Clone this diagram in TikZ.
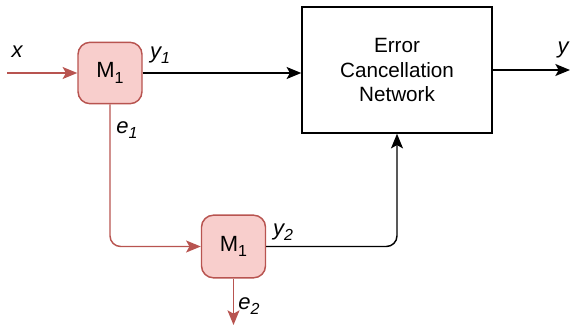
\documentclass[tikz,border=0pt]{standalone}
\usepackage{fontspec}
\setmainfont{Liberation Sans}
\usetikzlibrary{arrows.meta, positioning, calc}

\definecolor{mfill}{HTML}{F8CECC}
\definecolor{mline}{HTML}{B85450}

% index set a bit larger than \textsubscript
\newcommand{\lowidx}[1]{\raisebox{-0.45ex}{\fontsize{12}{12}\selectfont #1}}

\begin{document}
\begin{tikzpicture}[x=0.75pt, y=-0.75pt,
  font=\fontsize{15.5}{18.5}\selectfont,
  mblock/.style={draw=mline, fill=mfill, line width=1.1pt, rounded corners=9pt,
    minimum width=48pt, minimum height=46pt, inner sep=0pt,
    font=\fontsize{16.5}{18}\selectfont},
  ecnbox/.style={draw, line width=1.1pt, minimum width=142.5pt,
    minimum height=94.5pt, align=center},
  redwire/.style={mline, line width=1.1pt,
    -{Stealth[length=11pt, width=9pt, inset=2.5pt]}},
  wire/.style={black, line width=1.1pt,
    -{Stealth[length=11pt, width=9pt, inset=2.5pt]}},
  lbl/.style={inner sep=0pt, font=\fontsize{16.5}{18}\selectfont\itshape}
]
  \useasboundingbox (0,0) rectangle (571,325);

  % blocks
  \node[mblock] (m1a) at (110,73) {M\lowidx{1}};
  \node[mblock, minimum height=47pt] (m1b) at (233.5,246.5) {M\lowidx{1}};
  \node[ecnbox] (ecn) at (397,70) {Error\\Cancellation\\Network};

  % free ends
  \coordinate (xin) at (7,73);
  \coordinate (e2out) at (233.5,325);
  \coordinate (yout) at (570,70);

  % red paths
  \draw[redwire] (xin) -- (m1a.west);
  \draw[redwire, rounded corners=8pt] (m1a.south) |- (m1b.west);
  \draw[redwire] (m1b.south) -- (e2out);

  % black paths
  \draw[wire] (m1a.east) -- (m1a.east -| ecn.west);
  \draw[wire, rounded corners=8pt] (m1b.east) -| (ecn.south);
  \draw[wire] (ecn.east) -- (yout);

  % labels
  \node[lbl] (lx) at (17,52) {x};
  \node[lbl] (ly1) at (160,55) {y\lowidx{1}};
  \node[lbl] (le1) at (127,130) {e\lowidx{1}};
  \node[lbl] (ly2) at (283,232) {y\lowidx{2}};
  \node[lbl] (le2) at (249,306) {e\lowidx{2}};
  \node[lbl] (ly) at (563,50) {y};
\end{tikzpicture}
\end{document}
